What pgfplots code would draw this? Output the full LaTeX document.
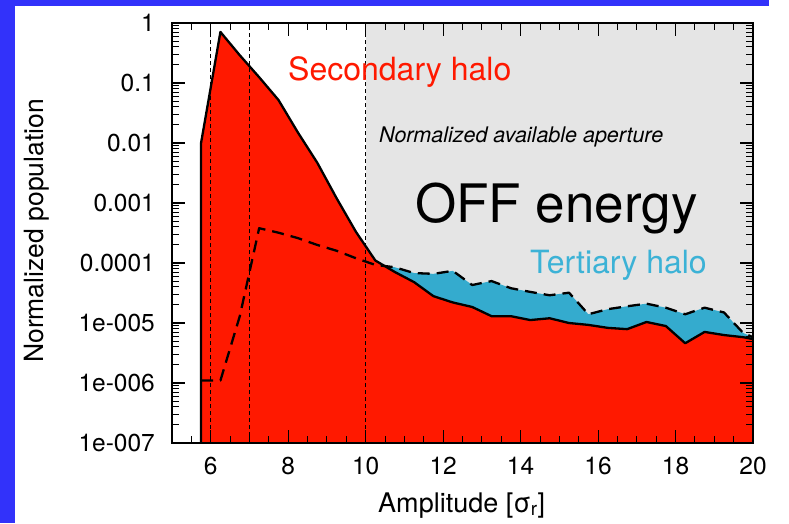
\documentclass[border=0pt]{standalone}
\usepackage{fontspec}
\setmainfont{TeX Gyre Heros}
\usepackage{pgfplots}
\pgfplotsset{compat=1.18}
\usepackage{pgfplotstable}

\definecolor{slideblue}{RGB}{50,50,250}
\definecolor{halored}{RGB}{255,25,0}
\definecolor{haloblue}{RGB}{52,171,206}
\definecolor{tertblue}{RGB}{60,178,214}
\definecolor{offgray}{RGB}{229,229,229}

% secondary halo (solid)
\pgfplotstableread{
x y
5.75 1e-7
5.75 0.01
6.25 0.71
6.75 0.29
7.25 0.125
7.75 0.052
8.25 0.015
8.75 0.0047
9.25 0.0012
9.75 3.3e-4
10.25 1.1e-4
10.75 7.1e-5
11.25 4.8e-5
11.75 2.8e-5
12.25 2.2e-5
12.75 1.85e-5
13.25 1.3e-5
13.75 1.3e-5
14.25 1.12e-5
14.75 1.2e-5
15.25 1.0e-5
15.75 9.3e-6
16.25 8.3e-6
16.75 7.9e-6
17.25 1.04e-5
17.75 8.9e-6
18.25 4.6e-6
18.75 7.1e-6
19.25 6.3e-6
19.75 5.8e-6
20 5.4e-6
}\secondary

% total incl. tertiary halo (dashed)
\pgfplotstableread{
x y
5.75 1.1e-6
6.25 1.1e-6
6.75 1.3e-5
7.25 3.8e-4
7.75 3.2e-4
8.25 2.6e-4
8.75 2.0e-4
9.25 1.6e-4
9.75 1.2e-4
10.25 9.3e-5
10.75 8.5e-5
11.25 6.8e-5
11.75 6.6e-5
12.25 7.4e-5
12.75 4.3e-5
13.25 5.0e-5
13.75 3.8e-5
14.25 3.3e-5
14.75 2.9e-5
15.25 3.2e-5
15.75 1.4e-5
16.25 1.7e-5
16.75 1.9e-5
17.25 2.1e-5
17.75 1.8e-5
18.25 1.4e-5
18.75 1.8e-5
19.25 1.5e-5
19.75 6.8e-6
20 5.8e-6
}\total

\begin{document}
\begin{tikzpicture}
\path (0,0) rectangle (789pt,523pt);
\fill[slideblue] (0,0) rectangle (15pt,523pt);
\fill[slideblue] (0,517pt) rectangle (769pt,523pt);

\begin{axis}[
  at={(172pt,80pt)}, anchor=south west,
  scale only axis, width=581pt, height=420pt,
  ymode=log,
  xmin=5, xmax=20, ymin=1e-7, ymax=1,
  axis on top,
  axis line style={line width=1.4pt},
  major tick style={draw=black, line width=1.1pt},
  minor tick style={draw=black, line width=0.9pt},
  major tick length=13pt, minor tick length=7pt,
  tick align=inside,
  xtick={6,8,10,12,14,16,18,20},
  xticklabels={6,8,10,12,14,16,18,20},
  minor xtick={5.5,6,...,20},
  ytick={1e-7,1e-6,1e-5,1e-4,1e-3,1e-2,1e-1,1},
  yticklabels={1e-007,1e-006,1e-005,0.0001,0.001,0.01,0.1,1},
  /pgf/number format/assume math mode=true,
  tick label style={font=\fontsize{24.5}{28}\selectfont, inner sep=0pt},
  every x tick label/.append style={yshift=-14pt},
  every y tick label/.append style={xshift=-17pt},
]
% off-energy aperture region
\addplot[fill=offgray, draw=none] coordinates {(10,1e-7) (10,1) (20,1) (20,1e-7)} -- cycle;
% tertiary halo (area under total), then secondary halo on top
\addplot[fill=haloblue, draw=none] table[x=x,y=y] {\total} -- (axis cs:20,1e-7) -- (axis cs:5.75,1e-7) -- cycle;
\addplot[fill=halored, draw=none] table[x=x,y=y] {\secondary} -- (axis cs:20,1e-7) -- cycle;

\draw[line width=0.9pt, dash pattern=on 4pt off 3pt] (axis cs:6,1e-7) -- (axis cs:6,1);
\draw[line width=0.9pt, dash pattern=on 4pt off 3pt] (axis cs:7,1e-7) -- (axis cs:7,1);
\draw[line width=0.9pt, dash pattern=on 4pt off 3pt] (axis cs:10,1e-7) -- (axis cs:10,1);

\addplot[black, line width=2.3pt, line join=round] table[x=x,y=y] {\secondary};
\addplot[black, line width=2.3pt, dash pattern=on 12pt off 7pt, line join=round] table[x=x,y=y] {\total};
\end{axis}

% tick marks on all four sides (axis box: x 172..753pt, y 80..500pt)
\foreach \v in {5.5,6,...,19.5} {
  \draw[line width=0.9pt] ({172pt+(\v-5)*38.7333pt},80pt) -- ++(0,7pt);
  \draw[line width=0.9pt] ({172pt+(\v-5)*38.7333pt},500pt) -- ++(0,-7pt);
}
\foreach \v in {6,8,...,18} {
  \draw[line width=1.1pt] ({172pt+(\v-5)*38.7333pt},80pt) -- ++(0,13pt);
  \draw[line width=1.1pt] ({172pt+(\v-5)*38.7333pt},500pt) -- ++(0,-13pt);
}
\foreach \e in {1,...,6} {
  \draw[line width=1.1pt] (172pt,{80pt+60pt*\e}) -- ++(13pt,0);
  \draw[line width=1.1pt] (753pt,{80pt+60pt*\e}) -- ++(-13pt,0);
}
\foreach \e in {0,...,6} {
  \foreach \m in {2,...,9} {
    \draw[line width=0.9pt] (172pt,{80pt+60pt*(\e+log10(\m))}) -- ++(7pt,0);
    \draw[line width=0.9pt] (753pt,{80pt+60pt*(\e+log10(\m))}) -- ++(-7pt,0);
  }
}

\node[anchor=base west, inner sep=0pt, text=halored, font=\fontsize{32}{36}\selectfont] at (288pt,442pt) {Secondary halo};
\node[anchor=base west, inner sep=0pt, font=\fontsize{21.5}{24}\selectfont\itshape] at (379pt,380pt) {Normalized available aperture};
\node[anchor=base west, inner sep=0pt, font=\fontsize{53}{60}\selectfont] at (415pt,301pt) {OFF energy};
\node[anchor=base west, inner sep=0pt, text=tertblue, font=\fontsize{32}{36}\selectfont] at (530pt,250pt) {Tertiary halo};

\node[rotate=90, anchor=base, inner sep=0pt, font=\fontsize{26.5}{30}\selectfont] at (43pt,292pt) {Normalized population};
\node[anchor=base west, inner sep=0pt, font=\fontsize{27}{30}\selectfont] at (378pt,11pt) {Amplitude [σ\textsubscript{r}]};
\end{tikzpicture}
\end{document}
